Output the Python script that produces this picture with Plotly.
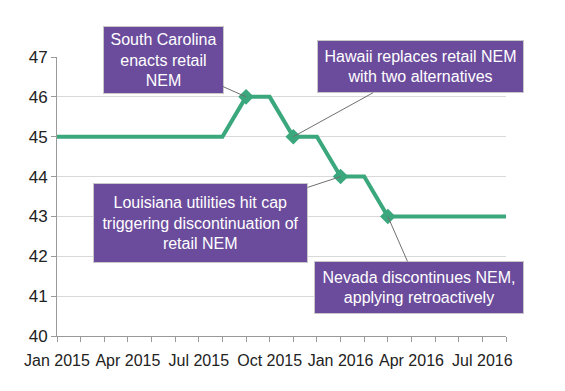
import plotly.graph_objects as go

months = ["Jan 2015", "Feb 2015", "Mar 2015", "Apr 2015", "May 2015", "Jun 2015",
          "Jul 2015", "Aug 2015", "Sep 2015", "Oct 2015", "Nov 2015", "Dec 2015",
          "Jan 2016", "Feb 2016", "Mar 2016", "Apr 2016", "May 2016", "Jun 2016",
          "Jul 2016", "Aug 2016"]
values = [45, 45, 45, 45, 45, 45, 45, 45, 46, 46, 45, 45, 44, 44, 43, 43, 43, 43, 43, 43]
tick_labels = ["Jan 2015", "Apr 2015", "Jul 2015", "Oct 2015", "Jan 2016", "Apr 2016", "Jul 2016"]

event_months = ["Sep 2015", "Nov 2015", "Jan 2016", "Mar 2016"]
event_texts = [
    "South Carolina<br>enacts retail<br>NEM",
    "Hawaii replaces retail NEM<br>with two alternatives",
    "Louisiana utilities hit cap<br>triggering discontinuation of<br>retail NEM",
    "Nevada discontinues NEM,<br>applying retroactively",
]
event_values = [values[months.index(m)] for m in event_months]

GREEN = "#3aa77d"
PURPLE = "#6b4c9c"
FONT = "Arial, Liberation Sans, sans-serif"

fig = go.Figure()
fig.add_trace(go.Scatter(x=months, y=values, mode="lines",
                         line=dict(color=GREEN, width=4), hoverinfo="skip"))
fig.add_trace(go.Scatter(x=event_months, y=event_values, mode="markers",
                         marker=dict(symbol="diamond", size=12, color=GREEN), hoverinfo="skip"))

# box placement (pixel offsets from the pointed-at marker) and sizes
offsets = [(-83, -37), (127, -70), (-140, 46), (31, 71)]
sizes = [(115, 62), (201, 47), (209, 74), (204, 47)]
for m, v, t, (ax, ay), (w, h) in zip(event_months, event_values, event_texts, offsets, sizes):
    fig.add_annotation(x=m, y=v, xref="x", yref="y", text=t, showarrow=True,
                       arrowhead=0, arrowwidth=1, arrowcolor="#707070",
                       ax=ax, ay=ay, bgcolor=PURPLE, bordercolor="#c8c8c8",
                       borderwidth=1, borderpad=2, width=w, height=h,
                       font=dict(family=FONT, size=16, color="white"), align="center")

tickvals = months
ticktext = [m if m in tick_labels else "" for m in months]

fig.update_xaxes(type="category", range=[0, len(months) - 1], tickmode="array",
                 tickvals=tickvals, ticktext=ticktext, tickangle=0,
                 ticks="outside", ticklen=5, tickcolor="#9a9a9a",
                 ticklabelstandoff=5,
                 showline=True, linecolor="#9a9a9a", linewidth=1,
                 showgrid=False, zeroline=False,
                 tickfont=dict(family=FONT, size=16, color="#222222"))
fig.update_yaxes(range=[40, 47], dtick=1, tick0=40,
                 ticks="outside", ticklen=5, tickcolor="#9a9a9a",
                 showline=True, linecolor="#9a9a9a", linewidth=1,
                 showgrid=True, gridcolor="#d9d9d9", gridwidth=1, zeroline=False,
                 tickfont=dict(family=FONT, size=17, color="#222222"))

fig.update_layout(width=565, height=391, showlegend=False,
                  margin=dict(l=49, r=67, t=49, b=63),
                  plot_bgcolor="white", paper_bgcolor="white")

fig.write_html("out.html")
